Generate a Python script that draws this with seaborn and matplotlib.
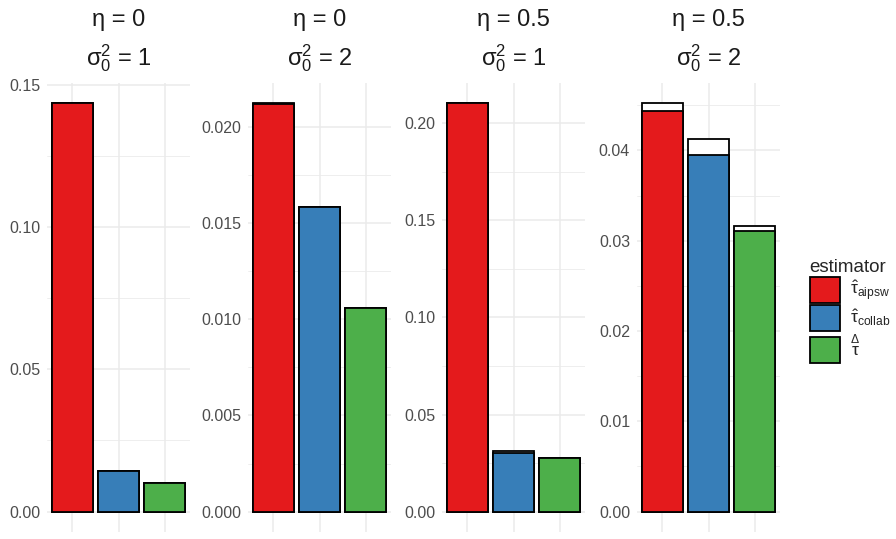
import numpy as np
import pandas as pd
import matplotlib
matplotlib.use('Agg')
import matplotlib.pyplot as plt
from matplotlib.patches import Patch
from matplotlib.ticker import MultipleLocator, FormatStrFormatter
import seaborn as sns

## Data
estimators  = ['aipsw', 'collab', 'delta']
labels      = [r'$\hat{\tau}_{\mathrm{aipsw}}$', r'$\hat{\tau}_{\mathrm{collab}}$', r'$\overset{\Delta}{\tau}$']
colors      = ['#E41A1C', '#377EB8', '#4DAF4A']
eta         = ['0', '0', '0.5', '0.5']
sigma2      = ['1', '2', '1', '2']
variance    = [[0.1435, 0.0143, 0.0102],
               [0.02118, 0.01583, 0.01056],
               [0.2103, 0.0302, 0.0278],
               [0.0444, 0.0395, 0.0311]]
bias2       = [[0.0, 0.0, 0.0],
               [0.00004, 0.00003, 0.0],
               [0.0, 0.0012, 0.0],
               [0.0008, 0.0018, 0.0005]]
tick_step   = [0.05, 0.005, 0.05, 0.01]
tick_dec    = [2, 3, 2, 2]

## Long table
rows = []
for p in range(4):
    for e in range(3):
        rows.append({'panel': p, 'estimator': estimators[e],
                     'variance': variance[p][e], 'mse': variance[p][e] + bias2[p][e]})
df = pd.DataFrame(rows)

sns.set_theme(style='white')
plt.rcParams['font.family'] = ['Liberation Sans', 'DejaVu Sans']
plt.rcParams['mathtext.fontset'] = 'custom'
plt.rcParams['mathtext.rm'] = 'Liberation Sans'
plt.rcParams['mathtext.it'] = 'Liberation Sans'
plt.rcParams['mathtext.cal'] = 'Liberation Sans'

W, H = 896, 539
fig = plt.figure(figsize=(W/100, H/100), dpi=100)
lefts = [47, 248, 442, 637]
pw = 143
top, bottom = 83, 532
pal = dict(zip(estimators, colors))

for p in range(4):
    ax = fig.add_axes([lefts[p]/W, 1-bottom/H, pw/W, (bottom-top)/H])
    d = df[df.panel == p]
    sns.barplot(data=d, x='estimator', y='mse', order=estimators, color='white',
                saturation=1, width=0.9, edgecolor='black', linewidth=1.3, ax=ax, zorder=3)
    sns.barplot(data=d, x='estimator', y='variance', order=estimators, hue='estimator',
                palette=pal, legend=False, saturation=1, width=0.9,
                edgecolor='black', linewidth=1.3, ax=ax, zorder=4)
    ymax = d['mse'].max()
    ax.set_ylim(-0.05*ymax, 1.05*ymax)
    ax.set_xlim(-0.55, 2.55)
    ax.yaxis.set_major_locator(MultipleLocator(tick_step[p]))
    ax.yaxis.set_minor_locator(MultipleLocator(tick_step[p]/2))
    ax.yaxis.set_major_formatter(FormatStrFormatter('%.' + str(tick_dec[p]) + 'f'))
    ax.grid(True, which='major', color='#EBEBEB', linewidth=1.1, zorder=0)
    ax.grid(True, which='minor', axis='y', color='#EBEBEB', linewidth=0.6, zorder=0)
    ax.set_axisbelow(True)
    for s in ax.spines.values():
        s.set_visible(False)
    ax.tick_params(axis='y', which='both', length=0, labelsize=11.5, labelcolor='#4D4D4D', pad=5)
    ax.tick_params(axis='x', length=0, labelbottom=False)
    ax.set_xlabel('')
    ax.set_ylabel('')
    cx = (lefts[p] + pw/2)/W
    fig.text(cx, 1-20/H, 'η = ' + eta[p], ha='center', va='center', fontsize=17, color='#1A1A1A')
    fig.text(cx, 1-58/H, r'σ$_0^2$ = ' + sigma2[p], ha='center', va='center', fontsize=17, color='#1A1A1A')

## Legend
handles = [Patch(facecolor=c, edgecolor='black', linewidth=1.3) for c in colors]
leg = fig.legend(handles, labels, title='estimator', loc='upper left',
                 bbox_to_anchor=(794/W, 1-243/H), frameon=False, fontsize=12.5,
                 title_fontsize=13.5, handlelength=1.75, handleheight=1.9,
                 labelspacing=0.1, handletextpad=0.6, alignment='left')

fig.savefig('out.png', dpi=100)
